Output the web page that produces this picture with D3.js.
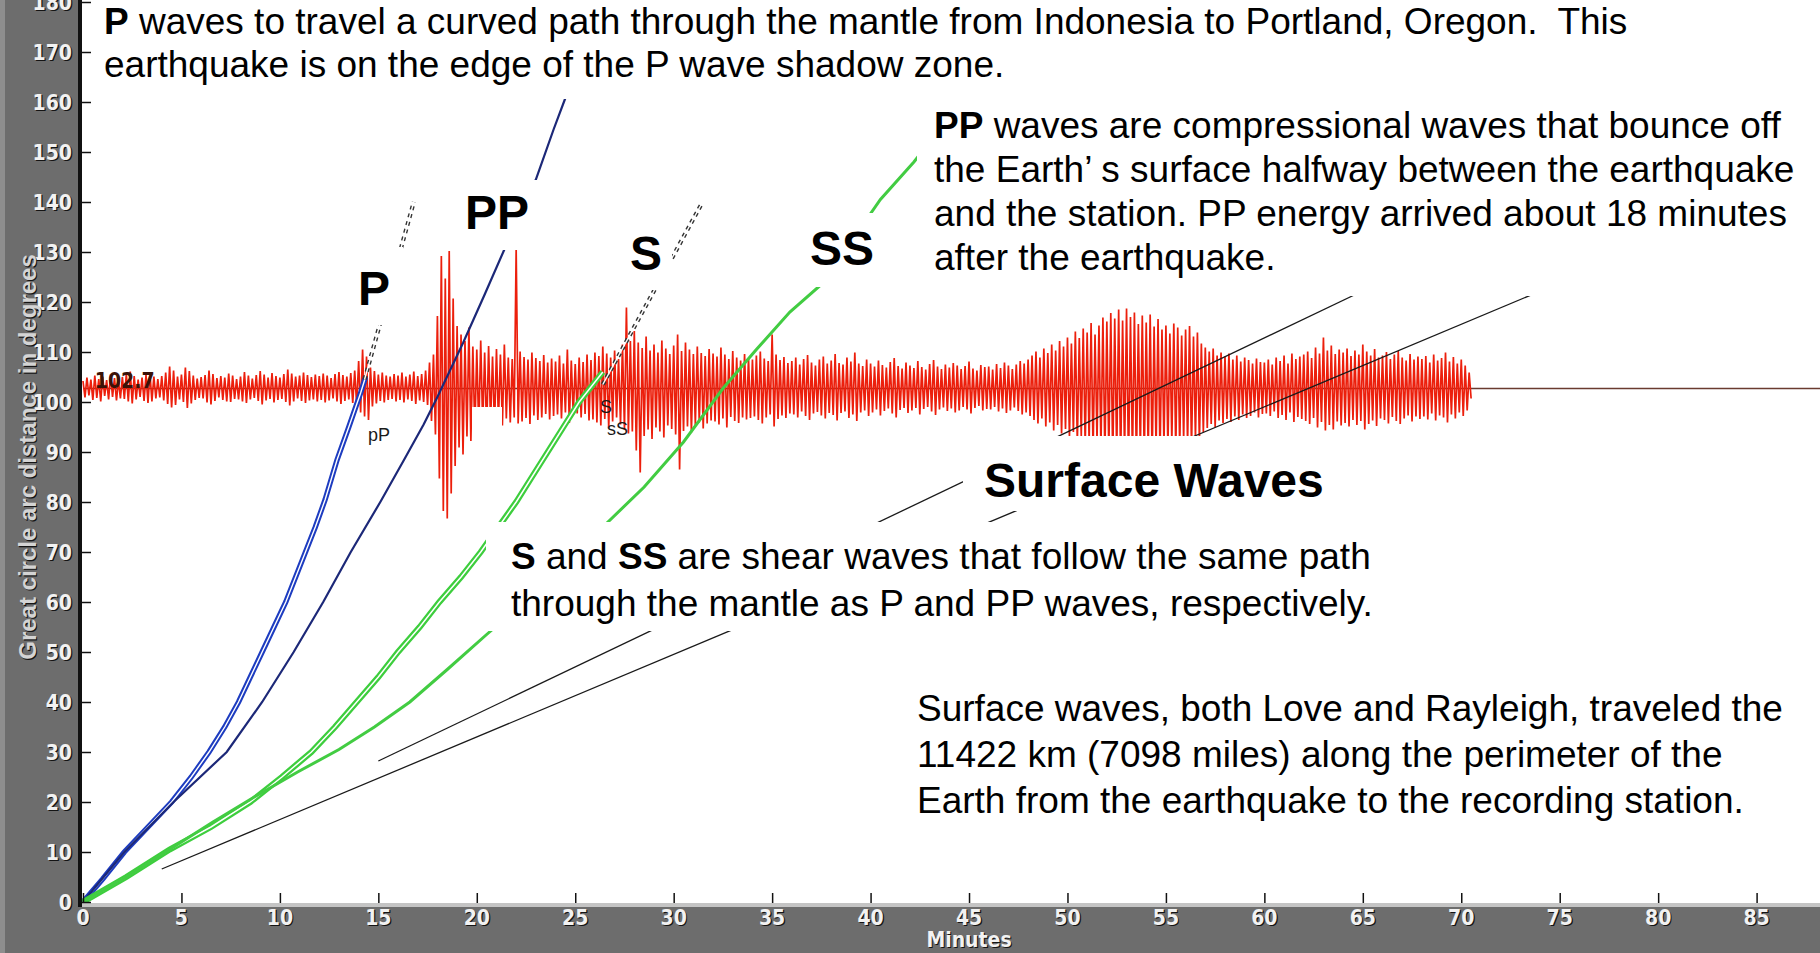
<!DOCTYPE html>
<html>
<head>
<meta charset="utf-8">
<script src="https://cdn.jsdelivr.net/npm/d3@7"></script>
<style>
html, body { margin: 0; padding: 0; background: #fff; overflow: hidden; }
svg { display: block; }
.para { font-family: "Liberation Sans", Arial, sans-serif; font-size: 37px; fill: #000; white-space: pre; }
.big { font-family: "Liberation Sans", Arial, sans-serif; font-weight: bold; font-size: 48px; fill: #000; }
.tiny { font-family: "Liberation Sans", Arial, sans-serif; font-size: 18px; fill: #1a1a1a; }
.ax { font-family: "Liberation Sans Narrow", "DejaVu Sans Condensed", sans-serif; font-weight: bold; font-size: 21px; }
.title { font-family: "Liberation Sans", Arial, sans-serif; font-weight: bold; font-size: 24px; }
</style>
</head>
<body>
<svg id="chart" width="1820" height="953"></svg>
<script>
// axis ticks
const xTickValues = [0, 5, 10, 15, 20, 25, 30, 35, 40, 45, 50, 55, 60, 65, 70, 75, 80, 85];
const yTickValues = [0, 10, 20, 30, 40, 50, 60, 70, 80, 90, 100, 110, 120, 130, 140, 150, 160, 170, 180];

// station distance and seismogram (deflections in degrees, one pair every 0.2 min)
const traceDistance = 102.7;
const traceStep = 0.2;
const traceUp = [
  1.5,2.2,1.8,2.6,1.9,2.4,1.7,2.8,2.1,1.6, 2.3,2.9,3.4,2.5,1.8,2.2,2.7,3.1,2.4,1.9,
  2.5,3.2,4.4,3.6,2.4,2.8,4.2,3.5,2.6,2.0, 2.3,2.7,3.6,2.9,2.1,2.5,2.2,3.0,2.6,1.9,
  2.4,3.3,2.6,2.0,2.7,3.5,2.8,2.2,3.1,2.5, 2.2,2.9,3.8,3.0,2.4,2.6,3.2,2.7,2.3,2.8,
  2.5,3.0,2.6,2.1,2.9,3.3,2.7,2.4,3.1,3.6, 5.5,7.8,6.4,4.2,3.5,2.8,3.2,2.6,2.4,2.9,
  2.6,3.2,2.4,2.8,3.4,2.5,2.9,3.6,5.2,6.8, 14.5,26.5,22,27.5,18,12.5,10.8,9.5,12.2,8.4,
  7.8,9.6,7.2,8.5,6.4,7.9,6.8,8.8,6.2,5.9, 28,7.4,6.3,5.8,7.2,6.1,5.5,6.7,5.2,6.0,
  5.4,6.6,5.0,7.8,5.6,4.9,6.2,5.3,6.8,5.7, 7.2,6.5,8.4,7.0,6.2,7.6,5.9,8.8,16.2,9.5,
  11.5,9.2,8.1,10.4,7.6,8.8,7.2,9.6,8.0,6.9, 8.6,10.8,7.5,9.2,7.8,6.9,8.4,7.1,6.5,7.9,
  7.0,6.4,8.2,6.8,5.9,7.5,6.2,5.6,6.9,6.1, 5.8,6.6,7.4,6.0,5.5,10.8,6.8,5.7,6.3,5.1,
  5.5,6.2,4.8,5.9,6.7,5.2,4.6,5.8,6.4,5.0, 5.6,6.9,5.1,4.8,6.2,5.4,7.2,5.0,4.5,5.8,
  5.0,4.4,5.6,4.7,4.2,5.3,6.1,4.5,4.0,5.2, 4.6,4.1,5.5,4.3,3.8,4.9,5.7,4.4,3.9,4.8,
  4.2,5.1,4.6,3.9,4.5,5.4,4.0,3.6,4.7,4.3, 4.4,3.8,4.9,4.1,5.2,4.6,3.9,4.8,5.5,5.0,
  5.8,6.6,7.4,6.2,8.0,7.1,8.8,7.6,9.5,8.4, 10.2,9.0,11.4,10.1,12.0,11.2,13.1,10.8,12.6,14.2,
  13.4,15.1,14.0,15.8,13.6,16.0,14.3,15.2,12.9,14.6, 13.2,14.8,12.4,13.9,11.8,12.6,11.0,13.0,12.2,10.6,
  11.8,12.5,10.4,11.2,9.0,8.2,7.4,8.0,6.6,7.2, 6.4,7.0,5.8,6.6,5.4,6.2,5.7,5.0,6.0,5.3,
  5.2,5.8,4.8,6.2,5.5,6.6,5.0,7.0,5.9,6.4, 6.8,7.4,6.1,8.2,7.0,10.2,7.6,8.6,6.9,7.8,
  7.2,8.0,6.5,7.6,6.8,8.8,7.4,6.6,7.9,6.2, 6.6,7.3,5.9,6.8,7.5,6.2,5.6,6.9,5.8,6.4,
  5.9,6.5,5.2,6.8,5.6,6.1,7.2,5.4,6.3,5.0, 5.8,4.6,3.2
];
const traceDown = [
  1.8,1.4,2.3,1.9,2.6,1.5,2.2,1.7,2.4,2.0, 2.1,2.6,3.0,2.2,1.7,2.5,2.9,2.6,2.0,1.8,
  2.4,3.1,3.8,3.3,2.2,2.7,3.9,3.0,2.3,1.9, 2.0,2.8,3.2,2.5,1.8,2.3,2.6,2.7,2.1,2.2,
  2.6,2.9,2.2,1.9,2.5,3.2,2.4,2.1,2.8,2.3, 2.1,2.7,3.4,2.6,2.0,2.5,2.9,2.4,2.2,2.6,
  2.3,2.8,2.4,2.0,2.6,3.1,2.5,2.2,2.9,3.4, 4.8,5.6,6.3,3.6,3.0,2.5,2.8,2.3,2.1,2.6,
  2.3,2.8,2.2,2.5,3.1,2.4,2.7,3.3,6.5,9.2, 18,24.5,26,21,15.5,11.8,13.2,9.6,10.5,8.8,
  8.2,7.5,9.1,6.9,7.8,6.5,7.4,6.0,6.8,5.8, 7.0,6.6,5.9,7.1,5.4,6.3,5.8,5.1,6.2,5.5,
  5.2,6.0,4.8,6.9,5.3,5.0,5.8,5.1,6.4,6.2, 6.8,7.4,6.1,7.9,6.6,5.8,7.2,8.3,9.0,8.6,
  12.4,16.8,9.5,8.2,10.1,7.8,8.6,9.8,7.4,8.1, 9.2,16.2,8.5,7.6,8.8,7.3,6.8,8.0,7.0,6.4,
  6.6,7.2,6.0,7.8,5.7,6.5,6.9,5.8,6.2,5.9, 5.6,6.3,7.0,5.8,5.2,7.6,6.1,5.4,5.9,5.0,
  5.2,5.8,4.6,5.5,6.3,5.0,4.7,5.4,6.0,4.9, 5.3,6.4,4.9,4.6,5.9,5.2,6.5,4.8,4.4,5.5,
  4.8,4.2,5.4,4.5,4.0,5.0,5.8,4.3,3.9,4.9, 4.4,3.9,5.2,4.1,3.7,4.6,5.3,4.2,3.8,4.5,
  4.0,4.8,4.4,3.7,4.2,5.0,3.9,3.5,4.4,4.1, 4.2,3.7,4.6,4.0,4.9,4.4,3.8,4.5,5.2,4.8,
  5.5,6.3,7.0,6.0,7.6,6.8,8.4,7.3,9.0,8.1, 9.8,8.7,11.0,9.7,11.6,10.8,12.5,10.4,12.2,13.6,
  12.9,14.5,13.5,15.0,13.1,15.4,13.8,14.7,12.5,14.0, 12.8,14.2,12.0,13.4,11.4,12.1,10.7,12.5,11.8,10.3,
  11.3,12.0,10.1,10.8,8.7,7.9,7.1,7.7,6.4,6.9, 6.1,6.7,5.6,6.3,5.2,5.9,5.5,4.8,5.8,5.1,
  5.0,5.5,4.6,5.9,5.3,6.3,4.8,6.7,5.7,6.1, 6.5,7.1,5.9,7.8,6.7,8.4,7.3,8.2,6.6,7.4,
  6.9,7.6,6.3,7.3,6.5,8.2,7.1,6.4,7.5,6.0, 6.3,7.0,5.7,6.5,7.1,6.0,5.4,6.6,5.6,6.1,
  5.6,6.2,5.0,6.4,5.4,5.8,6.8,5.2,6.0,4.8, 5.5,4.4,2.0
];

// travel time curves [minutes, degrees]
const pCurve = [[0,0],[1.0,4.6],[2.1,10],[3.3,15],[4.5,20],[5.5,25],[6.4,30],[7.2,35],[7.9,40],[8.5,45],[9.1,50],
  [9.7,55],[10.3,60],[10.8,65],[11.3,70],[11.8,75],[12.3,80.5],[12.9,88.4],[13.5,95],[14.1,101.8],[14.35,105]];
const ppCurve = [[0,0],[2.1,10],[4.6,20],[7.3,30],[9.1,40],[10.7,50],[12.2,60],[13.6,70],[15.1,80],[16.3,88.4],
  [17.3,95.5],[18.0,101],[19.3,111.8],[20.4,121.5],[21.4,130.5],[22.2,137.5],[23.0,144.5],[23.9,154.5],[24.5,160.8],[25.0,166]];
const sCurve = [[0,0],[2.2,5],[4.4,10.5],[6.5,15],[8.5,20],[10.1,25],[11.6,30],[12.8,35],[13.9,40],[15.0,45],[16.0,50],
  [17.1,55],[18.1,60],[19.2,65],[20.2,70],[21.1,75],[22.0,80],[22.8,85],[23.6,90],[24.4,95],[25.2,100],[26.0,104],[26.4,106]];
const ssCurve = [[0,0],[2.2,5],[4.4,10.5],[6.6,16],[8.7,21],[10.9,26],[13.0,30.5],[14.8,35],[16.6,40],[18.5,46.5],
  [20.5,53.5],[22.4,60],[24.4,67.5],[26.4,75],[28.5,83],[30.5,92],[32.5,102.7],[34.2,110.5],[35.9,118],[37.5,123.5],
  [39.0,132],[40.5,140.5],[42.2,148],[43.2,153]];
const pDiffracted = [[14.3,104.5],[16.8,140]];
const sDiffracted = [[26.4,103.5],[31.4,139.5]];
const loveLine = [[15.0,28.2],[66.0,124.1]];
const rayleighLine = [[4.0,6.6],[75.0,123.8]];

// slide text
const topLines = [["P", " waves to travel a curved path through the mantle from Indonesia to Portland, Oregon.  This"],
  ["", "earthquake is on the edge of the P wave shadow zone."]];
const ppLines = [["PP", " waves are compressional waves that bounce off"],
  ["", "the Earth\u2019 s surface halfway between the earthquake"],
  ["", "and the station. PP energy arrived about 18 minutes"],
  ["", "after the earthquake."]];
const surfLines = ["Surface waves, both Love and Rayleigh, traveled the",
  "11422 km (7098 miles) along the perimeter of the",
  "Earth from the earthquake to the recording station."];

const W = 1820, H = 953;
const x = d3.scaleLinear().domain([0, 88.22]).range([83, 1820]);
const y = d3.scaleLinear().domain([0, 180]).range([902, 2]);
const svg = d3.select("#chart");
const line = d3.line().x(d => x(d[0])).y(d => y(d[1]));

svg.append("rect").attr("width", W).attr("height", H).attr("fill", "#fff");

// baseline of the record
svg.append("path")
    .datum([[0, traceDistance], [x.domain()[1], traceDistance]])
    .attr("d", line).attr("fill", "none")
    .attr("stroke", "#6a3b30").attr("stroke-width", 1.5);

// seismogram
const tracePts = [];
traceUp.forEach((u, i) => {
    tracePts.push([i * traceStep, traceDistance + u]);
    tracePts.push([i * traceStep + traceStep / 2, traceDistance - traceDown[i]]);
});
svg.append("path").datum(tracePts).attr("d", line)
    .attr("fill", "none").attr("stroke", "#ec1f0c").attr("stroke-width", 1.7);

svg.append("text").attr("class", "ax")
    .attr("x", x(0.6)).attr("y", y(traceDistance) - 1)
    .attr("fill", "#3a1208").attr("font-size", 18)
    .text("102.7");

// double lines: a wide coloured stroke with a thin white core
function doubleLine(data, color, outer, inner, dash) {
    const p = svg.append("path").datum(data).attr("d", line).attr("fill", "none")
        .attr("stroke", color).attr("stroke-width", outer);
    svg.append("path").datum(data).attr("d", line).attr("fill", "none")
        .attr("stroke", "#fff").attr("stroke-width", inner);
    if (dash) { p.attr("stroke-dasharray", dash); }
}

doubleLine(pCurve, "#1d3cc0", 5.4, 1.4);
svg.append("path").datum(ppCurve).attr("d", line).attr("fill", "none")
    .attr("stroke", "#1c2878").attr("stroke-width", 2.2);
doubleLine(sCurve, "#3dce3d", 6, 1.5);
svg.append("path").datum(ssCurve).attr("d", line).attr("fill", "none")
    .attr("stroke", "#42cc42").attr("stroke-width", 3);
doubleLine(pDiffracted, "#333", 4.2, 1.4, "4,4");
doubleLine(sDiffracted, "#333", 4.2, 1.4, "4,4");

[loveLine, rayleighLine].forEach(l => {
    svg.append("path").datum(l).attr("d", line).attr("fill", "none")
        .attr("stroke", "#1a1a1a").attr("stroke-width", 1.3);
});

// phase picks
svg.append("text").attr("class", "tiny").attr("x", 368).attr("y", 441).text("pP");
svg.append("text").attr("class", "tiny").attr("x", 600).attr("y", 413).text("S");
svg.append("text").attr("class", "tiny").attr("x", 607).attr("y", 435).text("sS");

// white text boxes laid over the chart
const boxes = [
    [95, 0, 1700, 99], [917, 99, 1820, 296],
    [345, 247, 403, 325], [418, 180, 545, 250], [628, 228, 672, 290], [800, 213, 880, 287],
    [472, 407, 502, 437], [486, 522, 1381, 631], [963, 436, 1335, 511]
];
svg.selectAll("rect.box").data(boxes).join("rect").attr("class", "box")
    .attr("x", d => d[0]).attr("y", d => d[1])
    .attr("width", d => d[2] - d[0]).attr("height", d => d[3] - d[1])
    .attr("fill", "#fff");

function para(lines, x0, y0, dy) {
    lines.forEach((l, i) => {
        const t = svg.append("text").attr("class", "para").attr("x", x0).attr("y", y0 + i * dy);
        if (l[0]) t.append("tspan").attr("font-weight", "bold").text(l[0]);
        t.append("tspan").text(l[1]);
    });
}
para(topLines, 104, 34, 43);
para(ppLines, 934, 138, 44);
surfLines.forEach((l, i) => {
    svg.append("text").attr("class", "para").attr("x", 917).attr("y", 721 + i * 46).text(l);
});
const sText1 = svg.append("text").attr("class", "para").attr("x", 511).attr("y", 569);
sText1.append("tspan").attr("font-weight", "bold").text("S");
sText1.append("tspan").text(" and ");
sText1.append("tspan").attr("font-weight", "bold").text("SS");
sText1.append("tspan").text(" are shear waves that follow the same path");
svg.append("text").attr("class", "para").attr("x", 511).attr("y", 616)
    .text("through the mantle as P and PP waves, respectively.");

svg.append("text").attr("class", "big").attr("x", 358).attr("y", 305).text("P");
svg.append("text").attr("class", "big").attr("x", 465).attr("y", 229).text("PP");
svg.append("text").attr("class", "big").attr("x", 630).attr("y", 270).text("S");
svg.append("text").attr("class", "big").attr("x", 810).attr("y", 265).text("SS");
svg.append("text").attr("class", "big").attr("x", 984).attr("y", 497).text("Surface Waves");

// frame: gray panels
svg.append("rect").attr("x", 0).attr("y", 0).attr("width", 78).attr("height", H).attr("fill", "#6d6d6d");
svg.append("rect").attr("x", 0).attr("y", 0).attr("width", 5).attr("height", H).attr("fill", "#8e8e8e");
svg.append("rect").attr("x", 78).attr("y", 907).attr("width", W - 78).attr("height", H - 907).attr("fill", "#6d6d6d");
svg.append("rect").attr("x", 82).attr("y", 903).attr("width", W - 82).attr("height", 4).attr("fill", "#c4c4c4");
svg.append("rect").attr("x", 78).attr("y", 0).attr("width", 4).attr("height", 907).attr("fill", "#111");

// ticks
const yAxis = svg.append("g").attr("transform", "translate(82,0)")
    .call(d3.axisRight(y).tickValues(yTickValues).tickSize(9).tickFormat(""));
yAxis.select(".domain").remove();
yAxis.selectAll("line").attr("stroke", "#111").attr("stroke-width", 1.5);

const xAxis = svg.append("g").attr("transform", "translate(0,903)")
    .call(d3.axisTop(x).tickValues(xTickValues).tickSize(10).tickFormat(""));
xAxis.select(".domain").remove();
xAxis.selectAll("line").attr("stroke", "#111").attr("stroke-width", 1.5);

function shadowText(xx, yy, txt, anchor, cls, fill, rot, size) {
    [["#141414", 1.2], [fill, 0]].forEach(([c, o]) => {
        const t = svg.append("text").attr("class", cls).attr("fill", c).attr("text-anchor", anchor).text(txt);
        if (size) t.attr("font-size", size);
        if (rot) t.attr("transform", `translate(${xx + o},${yy + o}) rotate(-90)`);
        else t.attr("x", xx + o).attr("y", yy + o);
    });
}
yTickValues.forEach(v => shadowText(72, y(v) + 8, String(v), "end", "ax", "#f2f2f2"));
xTickValues.forEach(v => shadowText(x(v), 925, String(v), "middle", "ax", "#f2f2f2", false, 19));
shadowText(x(45), 947, "Minutes", "middle", "ax", "#f2f2f2", false, 15);
shadowText(36, 457, "Great circle arc distance in degrees", "middle", "title", "#d4d4d4", true);
</script>
</body>
</html>
